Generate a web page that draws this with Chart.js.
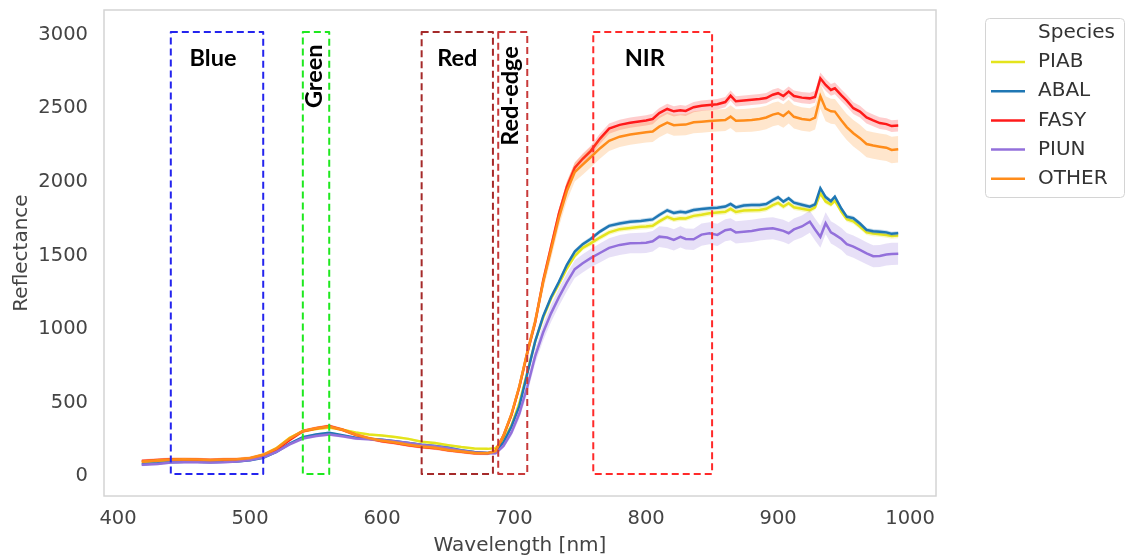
<!DOCTYPE html>
<html>
<head>
<meta charset="utf-8">
<script src="https://cdn.jsdelivr.net/npm/chart.js@4.4.1/dist/chart.umd.min.js"></script>
<style>
  body { margin: 0; background: #fff; }
</style>
</head>
<body>
<canvas id="c" width="1126" height="559"></canvas>
<script>
    // wavelengths (nm) shared by all series
    const wavelength = [418,430,440,450,460,470,480,490,500,510,
        520,530,540,550,560,570,580,590,600,610,
        620,630,640,650,660,670,680,
        686,692,698,704,710,716,722,728,734,740,
        746,752,758,765,772,780,788,796,800,805,
        810,816,821,826,830,836,842,848,854,860,
        864,868,874,880,886,891,896,900,904,908,
        912,918,924,928,932,936,940,943,948,952,
        957,962,967,972,977,982,986,991];

    // mean reflectance per species
    const piab = [80,88,92,93,92,90,92,95,105,130,175,245,290,305,315,300,282,268,260,250,238,218,210,195,182,172,170,
        175,230,330,480,690,900,1060,1190,1290,1395,
        1480,1535,1565,1605,1640,1662,1670,1678,1680,1685,
        1715,1745,1728,1736,1735,1752,1760,1770,1775,1780,
        1800,1778,1788,1790,1792,1800,1825,1840,1815,1838,
        1810,1800,1790,1810,1905,1850,1830,1855,1780,1730,
        1715,1680,1640,1632,1628,1622,1615,1618];
    const abal = [65,72,80,82,82,80,82,85,92,110,150,205,250,268,280,262,245,238,232,222,210,198,190,178,160,148,142,
        150,215,320,460,680,900,1070,1200,1305,1420,
        1510,1560,1595,1645,1684,1700,1712,1718,1722,1728,
        1758,1790,1772,1780,1775,1792,1798,1804,1808,1815,
        1833,1810,1822,1826,1826,1832,1860,1878,1849,1872,
        1842,1828,1815,1830,1940,1880,1852,1883,1800,1747,
        1736,1700,1657,1648,1645,1640,1630,1635];
    const fasy = [88,95,100,100,98,95,97,98,105,125,165,230,290,310,325,300,265,240,222,210,195,182,175,160,150,140,138,
        155,260,400,590,820,1030,1310,1540,1770,1950,
        2080,2140,2192,2275,2345,2370,2385,2395,2400,2410,
        2450,2478,2462,2470,2465,2490,2500,2505,2510,2525,
        2568,2530,2535,2540,2545,2552,2575,2585,2566,2596,
        2566,2555,2550,2560,2686,2641,2607,2618,2570,2535,
        2483,2460,2420,2400,2382,2375,2362,2365];
    const piun = [62,68,78,80,80,78,80,85,95,112,150,200,240,258,268,255,240,235,230,220,210,196,188,175,158,146,140,
        140,190,280,410,590,800,960,1090,1200,1300,
        1390,1430,1465,1500,1535,1555,1566,1568,1570,1580,
        1611,1605,1589,1610,1595,1593,1625,1634,1623,1655,
        1661,1640,1645,1650,1660,1665,1668,1660,1650,1634,
        1660,1680,1713,1660,1610,1702,1640,1625,1595,1560,
        1543,1521,1498,1478,1480,1490,1494,1495];
    const other = [85,92,98,100,97,95,97,99,108,130,172,240,292,310,322,300,268,243,225,213,198,186,178,163,152,142,140,
        155,262,405,595,825,1035,1300,1520,1740,1920,
        2050,2100,2150,2210,2262,2290,2305,2315,2320,2325,
        2358,2385,2368,2370,2372,2388,2392,2396,2400,2403,
        2426,2398,2400,2403,2410,2420,2440,2449,2430,2460,
        2425,2410,2403,2420,2565,2480,2462,2460,2400,2355,
        2313,2280,2240,2230,2222,2215,2200,2205];

    // half width of the shaded band per species
    const piabSpread = [8,8,8,8,8,8,8,8,8,8,8,8,8,8,8,8,8,8,8,8,8,8,8,8,8,8,8,
        8,10,12,14,16,18,18,18,18,18,
        18,18,18,18,18,18,18,18,18,18,
        18,18,18,18,18,18,18,18,18,18,
        18,18,18,18,18,18,18,18,18,18,
        18,18,18,18,18,18,18,18,18,18,
        18,18,18,18,18,18,18,18];
    const abalSpread = [8,8,8,8,8,8,8,8,8,8,8,8,8,8,8,8,8,8,8,8,8,8,8,8,8,8,8,
        8,10,12,14,15,15,15,15,15,15,
        15,15,15,15,15,15,15,15,15,15,
        15,15,15,15,15,15,15,15,15,15,
        15,15,15,15,15,15,15,15,15,15,
        15,15,15,15,15,15,15,15,15,15,
        15,15,15,15,15,15,15,15];
    const fasySpread = [12,12,12,12,12,12,12,12,12,12,12,12,12,12,12,12,12,12,12,12,12,12,12,12,12,12,12,
        12,15,20,25,30,30,30,30,32,35,
        35,35,35,35,35,35,35,35,35,35,
        35,35,35,35,35,35,35,35,35,35,
        35,35,35,35,35,35,35,35,35,35,
        38,38,38,40,40,40,40,40,40,40,
        40,40,40,40,40,40,40,40];
    const piunSpread = [10,10,10,10,10,10,10,10,10,10,10,10,10,10,10,10,10,10,10,10,10,10,10,10,10,10,10,
        10,15,25,35,45,50,55,58,60,60,
        60,62,62,65,65,68,68,70,70,70,
        70,72,72,72,72,72,75,75,75,75,
        75,75,75,75,75,75,75,75,75,75,
        75,75,75,75,75,75,75,75,75,75,
        75,75,75,75,75,75,75,75];
    const otherSpread = [12,12,12,12,12,12,12,12,12,12,12,12,12,12,12,12,12,12,12,12,12,12,12,12,12,12,12,
        12,18,25,35,45,50,55,60,62,65,
        65,68,70,70,70,70,70,70,70,72,
        72,72,72,72,72,75,75,75,75,75,
        78,78,78,80,80,80,80,80,80,80,
        80,80,80,82,85,85,85,85,88,88,
        90,90,90,90,90,90,90,90];

    const seriesNames = ['PIAB', 'ABAL', 'FASY', 'PIUN', 'OTHER'];
    const seriesValues = [piab, abal, fasy, piun, other];
    const seriesSpread = [piabSpread, abalSpread, fasySpread, piunSpread, otherSpread];

    // spectral band boxes (nm) and their top value
    const bandNames = ['Blue', 'Green', 'Red', 'Red-edge', 'NIR'];
    const bandStart = [440, 540, 630, 688, 760];
    const bandEnd = [510, 560, 684, 710, 850];
    const bandTop = 3000;

    const xTicks = [400, 500, 600, 700, 800, 900, 1000];
    const yTicks = [0, 500, 1000, 1500, 2000, 2500, 3000];

    // styles
    const seriesColors = ['#e4e41c', '#1f77b4', '#ff1a1a', '#9370db', '#ff8c1a'];
    const bandFills = ['rgba(228,228,28,0.25)', 'rgba(31,119,180,0.25)', 'rgba(255,26,26,0.22)',
        'rgba(147,112,219,0.22)', 'rgba(255,140,26,0.22)'];
    const bandColors = ['#2424ee', '#1ee81e', '#a52a2a', '#c83a3a', '#ff2a2a'];
    // label anchor (data units) and rotation for every band box
    const bandLabelAt = [
        { x: 472, y: 2824, rot: false },
        { x: 549, y: 2700, rot: true },
        { x: 657, y: 2824, rot: false },
        { x: 697.5, y: 2566, rot: true },
        { x: 799, y: 2824, rot: false }
    ];

    const tickFont = { family: 'DejaVu Sans', size: 19.5 };
    const textColor = '#444';

    // build datasets: upper band, lower band, mean line per species
    const datasets = [];
    seriesNames.forEach(function (name, i) {
        const mean = seriesValues[i];
        const spread = seriesSpread[i];
        const base = (seriesNames.length - 1 - i) * 3;
        datasets.push({
            label: name + ' upper',
            data: wavelength.map((w, k) => ({ x: w, y: mean[k] + spread[k] })),
            borderWidth: 0, pointRadius: 0, fill: '+1',
            backgroundColor: bandFills[i], order: base + 1
        });
        datasets.push({
            label: name + ' lower',
            data: wavelength.map((w, k) => ({ x: w, y: mean[k] - spread[k] })),
            borderWidth: 0, pointRadius: 0, fill: false, order: base + 2
        });
        datasets.push({
            label: name,
            data: wavelength.map((w, k) => ({ x: w, y: mean[k] })),
            borderColor: seriesColors[i], borderWidth: 2.5, pointRadius: 0,
            fill: false, tension: 0, order: base
        });
    });

    // frame around the plot area
    const framePlugin = {
        id: 'frame',
        beforeDatasetsDraw(chart) {
            const a = chart.chartArea;
            const ctx = chart.ctx;
            ctx.save();
            ctx.strokeStyle = '#d4d4d4';
            ctx.lineWidth = 1.5;
            ctx.strokeRect(a.left, a.top, a.right - a.left, a.bottom - a.top);
            ctx.restore();
        }
    };

    // dashed band boxes with their labels
    const bandPlugin = {
        id: 'bands',
        afterDatasetsDraw(chart) {
            const ctx = chart.ctx;
            const x = chart.scales.x, y = chart.scales.y;
            ctx.save();
            ctx.lineWidth = 2;
            ctx.setLineDash([7, 4]);
            ctx.lineJoin = 'round';
            bandNames.forEach(function (name, i) {
                const x0 = x.getPixelForValue(bandStart[i]);
                const x1 = x.getPixelForValue(bandEnd[i]);
                const y0 = y.getPixelForValue(bandTop);
                const y1 = y.getPixelForValue(0);
                ctx.strokeStyle = bandColors[i];
                ctx.strokeRect(x0, y0, x1 - x0, y1 - y0);
            });
            ctx.setLineDash([]);
            ctx.fillStyle = '#000';
            ctx.font = 'bold 23.5px Lato';
            ctx.textAlign = 'center';
            ctx.textBaseline = 'middle';
            bandNames.forEach(function (name, i) {
                const p = bandLabelAt[i];
                const px = x.getPixelForValue(p.x);
                const py = y.getPixelForValue(p.y);
                ctx.save();
                ctx.translate(px, py);
                if (p.rot) ctx.rotate(-Math.PI / 2);
                ctx.fillText(name, 0, 0);
                ctx.restore();
            });
            ctx.restore();
        }
    };

    // legend box on the right
    const legendPlugin = {
        id: 'speciesLegend',
        afterDraw(chart) {
            const ctx = chart.ctx;
            ctx.save();
            ctx.beginPath();
            ctx.roundRect(985.5, 18.5, 139, 179, 4);
            ctx.fillStyle = '#fff';
            ctx.fill();
            ctx.strokeStyle = '#d4d4d4';
            ctx.lineWidth = 1;
            ctx.stroke();
            ctx.font = '20px "DejaVu Sans"';
            ctx.textAlign = 'left';
            ctx.textBaseline = 'middle';
            ctx.fillStyle = '#333';
            ctx.fillText('Species', 1038, 33);
            seriesNames.forEach(function (name, i) {
                const ly = 62 + i * 29.2;
                ctx.strokeStyle = seriesColors[i];
                ctx.lineWidth = 2.5;
                ctx.beginPath();
                ctx.moveTo(991, ly);
                ctx.lineTo(1025, ly);
                ctx.stroke();
                ctx.fillStyle = '#333';
                ctx.fillText(name, 1038, ly);
            });
            ctx.restore();
        }
    };

    new Chart(document.getElementById('c'), {
        type: 'line',
        data: { datasets: datasets },
        options: {
            responsive: false,
            animation: false,
            devicePixelRatio: 1,
            layout: { padding: { left: 0, top: 10, right: 190, bottom: 0 } },
            plugins: {
                legend: { display: false },
                tooltip: { enabled: false }
            },
            scales: {
                x: {
                    type: 'linear',
                    min: 389.4,
                    max: 1019.6,
                    grid: { display: false, drawTicks: false },
                    border: { display: false },
                    afterBuildTicks: s => { s.ticks = xTicks.map(v => ({ value: v })); },
                    afterFit: s => { s.height = 63; s.paddingLeft = 0; s.paddingRight = 0; },
                    ticks: { font: tickFont, color: textColor, padding: 11, maxRotation: 0, callback: v => String(v) },
                    title: { display: true, text: 'Wavelength [nm]', font: { family: 'DejaVu Sans', size: 20 }, color: textColor, padding: { top: 4, bottom: 1 } }
                },
                y: {
                    min: -150,
                    max: 3150,
                    grid: { display: false, drawTicks: false },
                    border: { display: false },
                    afterBuildTicks: s => { s.ticks = yTicks.map(v => ({ value: v })); },
                    afterFit: s => { s.width = 104; s.paddingTop = 0; s.paddingBottom = 0; },
                    ticks: { font: tickFont, color: textColor, padding: 16, labelOffset: 2.5, callback: v => String(v) },
                    title: { display: true, text: 'Reflectance', font: { family: 'DejaVu Sans', size: 20 }, color: textColor, padding: { top: 10, bottom: 0 } }
                }
            }
        },
        plugins: [framePlugin, bandPlugin, legendPlugin]
    });
</script>
</body>
</html>
